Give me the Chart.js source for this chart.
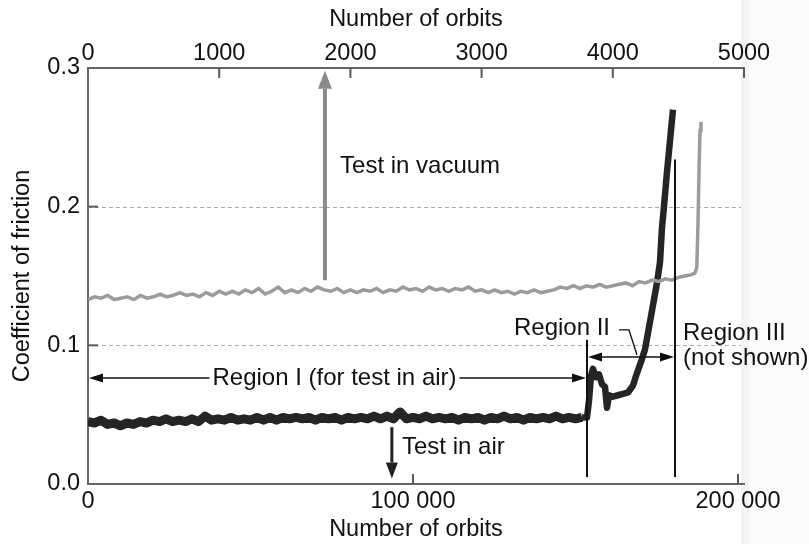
<!DOCTYPE html>
<html><head><meta charset="utf-8">
<script src="https://cdn.jsdelivr.net/npm/chart.js@4"></script>
<style>html,body{margin:0;padding:0;background:#fff;}#wrap{width:809px;height:544px;}</style>
</head><body><div id="wrap"><canvas id="c" width="809" height="544"></canvas></div>
<script>
// ---- data ----
// Test in air, Region I: plotted against bottom axis (0 - 200 000 orbits)
const airOrbitsI = [
  0,2000,4000,6000,8000,10000,12000,14000,16000,18000,20000,22000,24000,26000,28000,30000,
  32000,34000,36000,38000,40000,42000,44000,46000,48000,50000,52000,54000,56000,58000,60000,
  62000,64000,66000,68000,70000,72000,74000,76000,78000,80000,82000,84000,86000,88000,90000,
  92000,94000,96000,98000,100000,102000,104000,106000,108000,110000,112000,114000,116000,118000,
  120000,122000,124000,126000,128000,130000,132000,134000,136000,138000,140000,142000,144000,
  146000,148000,150000,152000
];
const airCoefI = [
  0.045,0.044,0.046,0.043,0.044,0.042,0.044,0.043,0.045,0.044,0.046,0.045,0.047,0.045,0.046,0.045,
  0.047,0.045,0.049,0.046,0.047,0.046,0.048,0.046,0.047,0.046,0.048,0.046,0.048,0.046,0.048,
  0.047,0.048,0.047,0.048,0.046,0.048,0.047,0.048,0.046,0.048,0.047,0.048,0.047,0.049,0.047,
  0.049,0.047,0.052,0.047,0.048,0.047,0.049,0.047,0.048,0.047,0.048,0.046,0.048,0.047,
  0.048,0.046,0.048,0.047,0.049,0.047,0.048,0.046,0.048,0.047,0.048,0.047,0.049,
  0.047,0.048,0.047,0.048
];
// Test in air, Regions II and after
const airOrbitsII = [
  152000,153540,154150,154770,155380,156310,157230,158150,159080,159690,160310,161540,163080,164620,
  166150,167690,168920,170150,171380,172310,173230,174150,175080,176000,176620,177230,178150,
  178770,179380,180000
];
const airCoefII = [
  0.048,0.048,0.060,0.078,0.083,0.077,0.079,0.072,0.070,0.055,0.064,0.063,0.064,0.065,
  0.066,0.071,0.080,0.088,0.097,0.109,0.121,0.133,0.145,0.160,0.185,0.200,0.225,
  0.240,0.255,0.270
];
// Test in vacuum: plotted against top axis (0 - 5000 orbits)
const vacOrbits = [
  0,50,100,150,200,250,300,350,400,450,500,
  550,600,650,700,750,800,850,900,950,1000,
  1050,1100,1150,1200,1250,1300,1350,1400,1450,1500,
  1550,1600,1650,1700,1750,1800,1850,1900,1950,2000,
  2050,2100,2150,2200,2250,2300,2350,2400,2450,2500,
  2550,2600,2650,2700,2750,2800,2850,2900,2950,3000,
  3050,3100,3150,3200,3250,3300,3350,3400,3450,3500,
  3550,3600,3650,3700,3750,3800,3850,3900,3950,4000,
  4050,4100,4150,4200,4250,4300,4350,4400,4450,4500,
  4550,4600,4625,4640,4650,4658,4665,4672
];
const vacCoef = [
  0.133,0.135,0.134,0.136,0.133,0.134,0.135,0.133,0.136,0.134,0.135,
  0.137,0.135,0.136,0.138,0.136,0.137,0.135,0.138,0.136,0.139,
  0.137,0.139,0.137,0.140,0.138,0.141,0.137,0.139,0.142,0.138,
  0.140,0.138,0.141,0.139,0.142,0.140,0.139,0.141,0.138,0.140,
  0.138,0.140,0.139,0.141,0.138,0.140,0.139,0.142,0.140,0.141,
  0.139,0.142,0.140,0.141,0.139,0.141,0.140,0.142,0.139,0.140,
  0.138,0.140,0.138,0.139,0.137,0.139,0.138,0.140,0.138,0.139,
  0.140,0.142,0.141,0.143,0.141,0.143,0.142,0.144,0.142,0.143,
  0.144,0.145,0.143,0.146,0.145,0.147,0.146,0.148,0.147,0.149,
  0.150,0.151,0.152,0.156,0.190,0.230,0.255,0.261
];
// tick labels / tick values
const bottomTicks = [0, 100000, 200000];
const topTicks = [0, 1000, 2000, 3000, 4000, 5000];
const yTicks = [0, 0.1, 0.2, 0.3];
const yGridValues = [0.1, 0.2];
const bottomTickMarks = [100000, 200000];
const topTickMarks = [1000, 2000, 3000, 4000, 5000];
const yTickMarks = [0.1, 0.2];

// ---- chart ----
const FONT = "'Liberation Sans', Arial, Helvetica, sans-serif";
const tickFont = {family: FONT, size: 23.5};
const annFont = "24px 'Liberation Sans', Arial, sans-serif";
const fmtThousands = v => String(v).replace(/\B(?=(\d{3})+(?!\d))/g, ' ');

function arrow(ctx, x1, y1, x2, y2, color, w, hl, hw) {
  const a = Math.atan2(y2 - y1, x2 - x1);
  const bx = x2 - hl * Math.cos(a), by = y2 - hl * Math.sin(a);
  ctx.save();
  ctx.strokeStyle = color; ctx.fillStyle = color; ctx.lineWidth = w;
  ctx.beginPath(); ctx.moveTo(x1, y1); ctx.lineTo(bx, by); ctx.stroke();
  ctx.beginPath();
  ctx.moveTo(x2, y2);
  ctx.lineTo(bx + hw / 2 * Math.sin(a), by - hw / 2 * Math.cos(a));
  ctx.lineTo(bx - hw / 2 * Math.sin(a), by + hw / 2 * Math.cos(a));
  ctx.closePath(); ctx.fill();
  ctx.restore();
}

const deco = {
  id: 'deco',
  beforeDraw(chart) {
    const ctx = chart.ctx;
    ctx.save();
    ctx.fillStyle = '#ffffff';
    ctx.fillRect(0, 0, chart.width, chart.height);
    ctx.fillStyle = '#f3f3f3';
    ctx.fillRect(741, 0, 8, chart.height);
    ctx.fillStyle = '#fbfbfb';
    ctx.fillRect(749, 0, chart.width - 749, chart.height);
    ctx.restore();
  },
  beforeDatasetsDraw(chart) {
    const ctx = chart.ctx, ca = chart.chartArea;
    const xs = chart.scales.x, xt = chart.scales.x2, ys = chart.scales.y;
    ctx.save();
    ctx.strokeStyle = '#a8a8a8'; ctx.lineWidth = 1; ctx.setLineDash([4, 3]);
    yGridValues.forEach(v => {
      const py = Math.round(ys.getPixelForValue(v)) + 0.5;
      ctx.beginPath(); ctx.moveTo(ca.left, py); ctx.lineTo(xs.getPixelForValue(200000) + 3, py); ctx.stroke();
    });
    ctx.setLineDash([]);
    ctx.strokeStyle = '#5a5a5a'; ctx.lineWidth = 2;
    topTickMarks.forEach(v => {
      const px = xt.getPixelForValue(v);
      ctx.beginPath(); ctx.moveTo(px, ca.top); ctx.lineTo(px, ca.top + 10); ctx.stroke();
    });
    bottomTickMarks.forEach(v => {
      const px = xs.getPixelForValue(v);
      ctx.beginPath(); ctx.moveTo(px, ca.bottom); ctx.lineTo(px, ca.bottom - 10); ctx.stroke();
    });
    yTickMarks.forEach(v => {
      const py = ys.getPixelForValue(v);
      ctx.beginPath(); ctx.moveTo(ca.left, py); ctx.lineTo(ca.left + 10, py); ctx.stroke();
    });
    ctx.restore();
  },
  afterDatasetsDraw(chart) {
    const ctx = chart.ctx;
    const xs = chart.scales.x, xt = chart.scales.x2, ys = chart.scales.y;
    const X = v => xs.getPixelForValue(v), XT = v => xt.getPixelForValue(v), Y = v => ys.getPixelForValue(v);
    ctx.save();
    ctx.font = annFont; ctx.fillStyle = '#111'; ctx.textBaseline = 'middle';
    arrow(ctx, XT(1806), Y(0.147), XT(1806), Y(0.298), '#8a8a8a', 4, 18, 14);
    ctx.textAlign = 'left';
    ctx.fillText('Test in vacuum', XT(1921), Y(0.2293));
    arrow(ctx, X(93500), Y(0.041), X(93500), Y(0.004), '#222', 3, 16, 12);
    ctx.fillText('Test in air', X(96620), Y(0.0267));
    const r1 = 'Region I (for test in air)';
    const r1w = ctx.measureText(r1).width;
    const r1c = X(75850), r1y = Y(0.0764);
    ctx.textAlign = 'center';
    ctx.fillText(r1, r1c, r1y);
    arrow(ctx, r1c - r1w / 2 - 3, r1y, X(0) + 1, r1y, '#111', 1.5, 14, 9);
    arrow(ctx, r1c + r1w / 2 + 3, r1y, X(153230), r1y, '#111', 1.5, 14, 9);
    ctx.strokeStyle = '#111'; ctx.lineWidth = 2;
    ctx.beginPath(); ctx.moveTo(X(153540), Y(0.104)); ctx.lineTo(X(153540), Y(0.005)); ctx.stroke();
    ctx.beginPath(); ctx.moveTo(X(180620), Y(0.234)); ctx.lineTo(X(180620), Y(0.005)); ctx.stroke();
    const dy = Y(0.0916);
    arrow(ctx, (X(153540) + X(180620)) / 2, dy, X(153540) + 1, dy, '#111', 1.5, 14, 9);
    arrow(ctx, (X(153540) + X(180620)) / 2, dy, X(180620) - 1, dy, '#111', 1.5, 14, 9);
    ctx.textAlign = 'right';
    ctx.fillText('Region II', X(160620), Y(0.1125));
    ctx.lineWidth = 1.3;
    ctx.beginPath();
    ctx.moveTo(X(163380), Y(0.1111)); ctx.lineTo(X(166460), Y(0.1111)); ctx.lineTo(X(168920), Y(0.0930));
    ctx.stroke();
    ctx.textAlign = 'left';
    ctx.fillText('Region III', X(183080), Y(0.1089));
    ctx.fillText('(not shown)', X(183080), Y(0.0909));
    ctx.restore();
  }
};

const axisTitle = text => ({display: true, text, font: tickFont, color: '#111'});

new Chart(document.getElementById('c'), {
  type: 'line',
  data: {
    datasets: [
      {
        label: 'Test in vacuum', xAxisID: 'x2', yAxisID: 'y',
        data: vacOrbits.map((o, i) => ({x: o, y: vacCoef[i]})),
        borderColor: '#9b9b9b', borderWidth: 3.5, pointRadius: 0, tension: 0, fill: false
      },
      {
        label: 'Test in air (Region I)', xAxisID: 'x', yAxisID: 'y',
        data: airOrbitsI.map((o, i) => ({x: o, y: airCoefI[i]})),
        borderColor: '#252525', borderWidth: 9, pointRadius: 0, tension: 0, fill: false,
        borderJoinStyle: 'round'
      },
      {
        label: 'Test in air (Region II)', xAxisID: 'x', yAxisID: 'y',
        data: airOrbitsII.map((o, i) => ({x: o, y: airCoefII[i]})),
        borderColor: '#252525', borderWidth: 6.5, pointRadius: 0, tension: 0, fill: false,
        borderJoinStyle: 'round'
      }
    ]
  },
  options: {
    responsive: false, animation: false, devicePixelRatio: 1,
    layout: {padding: {left: 0, top: 0, right: 65, bottom: 0}},
    plugins: {legend: {display: false}, tooltip: {enabled: false}},
    scales: {
      x: {
        type: 'linear', position: 'bottom', min: 0, max: 201850,
        afterBuildTicks: s => { s.ticks = bottomTicks.map(v => ({value: v})); },
        afterFit: s => { s.height = 60; },
        ticks: {font: tickFont, color: '#111', padding: 3, maxRotation: 0, autoSkip: false,
                callback: v => fmtThousands(v)},
        grid: {display: false, drawTicks: false},
        border: {display: true, color: '#666', width: 2},
        title: Object.assign(axisTitle('Number of orbits'), {padding: {top: 0, bottom: 0}})
      },
      x2: {
        type: 'linear', position: 'top', min: 0, max: 5000,
        afterBuildTicks: s => { s.ticks = topTicks.map(v => ({value: v})); },
        afterFit: s => { s.height = 68; },
        ticks: {font: tickFont, color: '#111', padding: 0, maxRotation: 0, autoSkip: false,
                callback: v => String(v)},
        grid: {display: false, drawTicks: false},
        border: {display: true, color: '#666', width: 2},
        title: Object.assign(axisTitle('Number of orbits'), {padding: {top: 5, bottom: 0}})
      },
      y: {
        type: 'linear', position: 'left', min: 0, max: 0.3,
        afterBuildTicks: s => { s.ticks = yTicks.map(v => ({value: v})); },
        afterFit: s => { s.width = 88; },
        ticks: {font: tickFont, color: '#111', padding: 8, callback: v => Number(v).toFixed(1)},
        grid: {display: false, drawTicks: false},
        border: {display: true, color: '#666', width: 2},
        title: Object.assign(axisTitle('Coefficient of friction'), {padding: {top: 8, bottom: 0}})
      }
    }
  },
  plugins: [deco]
});
</script>
</body></html>
